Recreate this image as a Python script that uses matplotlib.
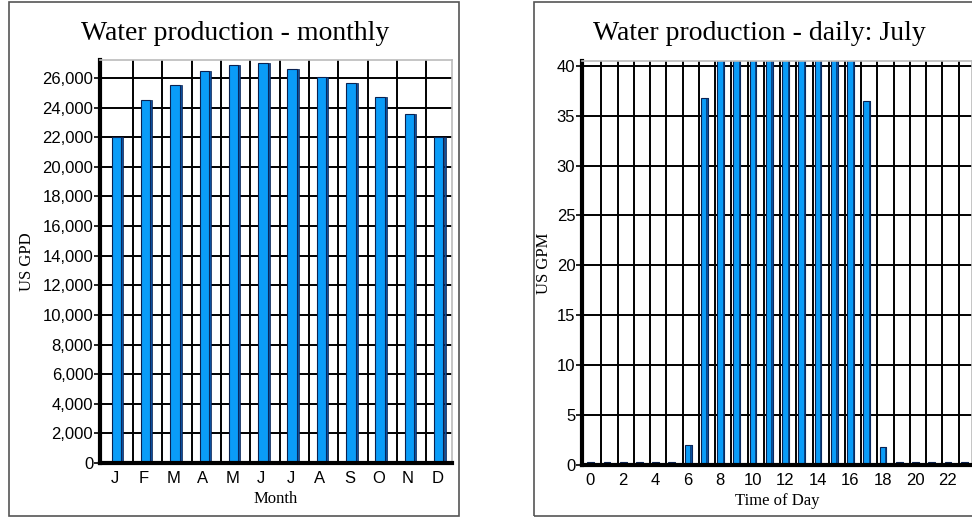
import matplotlib.pyplot as plt
from matplotlib.patches import Rectangle
from matplotlib.ticker import StrMethodFormatter
import numpy as np

# data
months = ['J', 'F', 'M', 'A', 'M', 'J', 'J', 'A', 'S', 'O', 'N', 'D']
monthly_gpd = [22000, 24500, 25500, 26450, 26850, 27000, 26600, 26050, 25650, 24700, 23550, 22000]

hours = list(range(24))
july_gpm = [0.3, 0.3, 0.3, 0.3, 0.3, 0.3, 2.0, 36.8, 41, 41, 41, 41, 41, 41, 41, 41, 41,
            36.5, 1.85, 0.3, 0.3, 0.3, 0.3, 0.3]
hour_ticks = list(range(0, 24, 2))

blue = '#0a9cf8'
side = '#0b4f9e'
edge = '#0a2150'
serif = ['Liberation Serif', 'DejaVu Serif']
sans = ['Liberation Sans', 'DejaVu Sans']

fig = plt.figure(figsize=(9.72, 5.18), dpi=100)

# panel frames
fig.patches.append(Rectangle((0.009, 0.003), 0.463, 0.993, transform=fig.transFigure,
                             fill=False, edgecolor='#555555', lw=1.2))
fig.patches.append(Rectangle((0.549, 0.003), 0.46, 0.993, transform=fig.transFigure,
                             fill=False, edgecolor='#555555', lw=1.2))


def style_axes(ax):
    ax.set_axisbelow(True)
    ax.grid(True, axis='y', color='black', lw=1.4)
    for s in ['top', 'right']:
        ax.spines[s].set_color('#bbbbbb')
        ax.spines[s].set_linewidth(1.2)
    ax.spines['left'].set_linewidth(3)
    ax.spines['bottom'].set_linewidth(3)
    ax.tick_params(axis='y', length=4, width=1.2, pad=1, labelsize=12)
    ax.tick_params(axis='x', length=0, pad=6, labelsize=12)
    for lab in ax.get_xticklabels() + ax.get_yticklabels():
        lab.set_family(sans)


# monthly chart
ax1 = fig.add_axes([0.103, 0.106, 0.362, 0.778])
x1 = np.arange(len(months))
for b in np.arange(len(months)) + 0.62:
    ax1.axvline(b, color='black', lw=1.4, zorder=0.5)
ax1.bar(x1 + 0.05, monthly_gpd, width=0.32, color=blue, edgecolor=edge, lw=0.8, zorder=2)
ax1.bar(x1 + 0.25, monthly_gpd, width=0.07, color=side, edgecolor=edge, lw=0.5, zorder=2)
ax1.set_xlim(-0.5, 11.5)
ax1.set_ylim(0, 27200)
ax1.set_yticks(range(0, 26001, 2000))
ax1.yaxis.set_major_formatter(StrMethodFormatter('{x:,.0f}'))
ax1.set_xticks(x1)
ax1.set_xticklabels(months)
style_axes(ax1)
ax1.set_xlabel('Month', family=serif, fontsize=12, labelpad=3)
ax1.set_ylabel('US GPD', family=serif, fontsize=12, labelpad=5)
fig.text(0.242, 0.935, 'Water production - monthly', family=serif, fontsize=20,
         ha='center', va='center')

# daily chart
ax2 = fig.add_axes([0.599, 0.102, 0.401, 0.78])
for b in np.arange(24) + 0.68:
    ax2.axvline(b, color='black', lw=1.4, zorder=0.5)
ax2.bar(np.array(hours) + 0.02, july_gpm, width=0.42, color=blue, edgecolor=edge, lw=0.8, zorder=2)
ax2.bar(np.array(hours) + 0.19, july_gpm, width=0.08, color=side, edgecolor=edge, lw=0.4, zorder=2)
ax2.set_xlim(-0.5, 23.5)
ax2.set_ylim(0, 40.45)
ax2.set_yticks(range(0, 41, 5))
ax2.set_xticks(hour_ticks)
style_axes(ax2)
ax2.set_xlabel('Time of Day', family=serif, fontsize=12, labelpad=3)
ax2.set_ylabel('US GPM', family=serif, fontsize=12, labelpad=3)
fig.text(0.781, 0.935, 'Water production - daily: July', family=serif, fontsize=20,
         ha='center', va='center')

fig.savefig('out.png', dpi=100)
